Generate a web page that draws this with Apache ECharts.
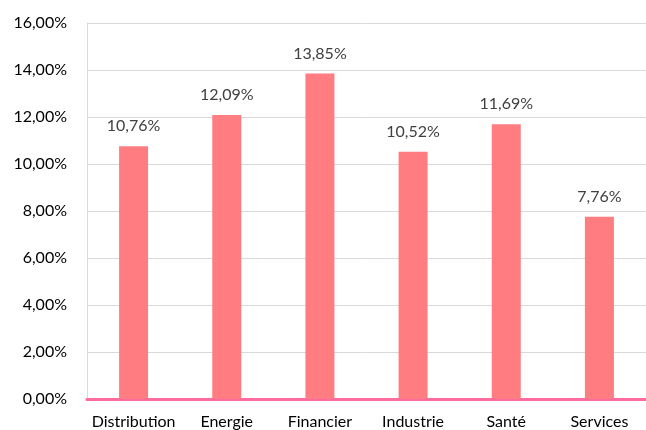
<!DOCTYPE html>
<html>
<head>
<meta charset="utf-8">
<script src="https://cdn.jsdelivr.net/npm/echarts@6/dist/echarts.min.js"></script>
<style>
  html, body { margin: 0; padding: 0; background: #fff; }
  #chart { width: 646px; height: 430px; }
</style>
</head>
<body>
<div id="chart"></div>
<script>
// Sector returns
const categories = ['Distribution', 'Energie', 'Financier', 'Industrie', 'Santé', 'Services'];
const values = [10.76, 12.09, 13.85, 10.52, 11.69, 7.76];

const fmtPct = (v) => v.toFixed(2).replace('.', ',') + '%';
const font = 'Lato, "Open Sans", sans-serif';

const chart = echarts.init(document.getElementById('chart'));
chart.setOption({
  animation: false,
  grid: { left: 87, top: 23, width: 566, height: 376 },
  xAxis: {
    type: 'category',
    data: categories,
    axisLine: { lineStyle: { color: '#FF6A9F', width: 3 } },
    axisTick: { show: false },
    axisLabel: { interval: 0, color: '#000', fontFamily: font, fontSize: 16, margin: 15 },
  },
  yAxis: {
    type: 'value',
    min: 0,
    max: 16,
    interval: 2,
    axisLine: { show: true, lineStyle: { color: '#D9D9D9', width: 1 } },
    axisTick: { show: false },
    splitLine: { lineStyle: { color: '#D9D9D9', width: 1 } },
    axisLabel: { color: '#000', fontFamily: font, fontSize: 16, margin: 20, formatter: fmtPct },
  },
  series: [{
    type: 'bar',
    data: values,
    barWidth: 29,
    itemStyle: { color: '#FF7C80' },
    label: {
      show: true,
      position: 'top',
      distance: 12,
      color: '#404040',
      fontFamily: font,
      fontSize: 16,
      formatter: (p) => fmtPct(p.value),
    },
  }],
});
</script>
</body>
</html>
